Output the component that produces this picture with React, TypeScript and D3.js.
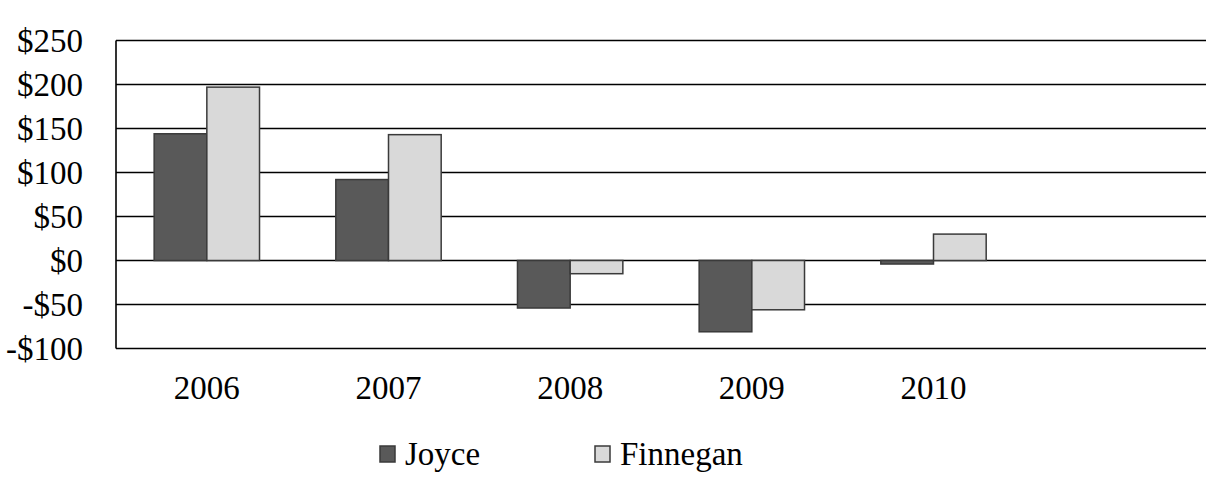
import React from "react";
import * as d3 from "d3";

const categories = ["2006", "2007", "2008", "2009", "2010", ""];
const seriesNames = ["Joyce", "Finnegan"];
const joyce = [144, 92, -54, -81, -4];
const finnegan = [197, 143, -15, -56, 30];
const yTicks = [-100, -50, 0, 50, 100, 150, 200, 250];
const colors = ["#595959", "#d9d9d9"];

const W = 1231;
const H = 488;
const left = 116;
const right = 1206;
const top = 40.5;
const bottom = 348.5;

export default function App() {
  const x0 = d3
    .scaleBand<string>()
    .domain(categories)
    .range([left, right])
    .paddingInner(0.42)
    .paddingOuter(0.21);
  const x1 = d3
    .scaleBand<string>()
    .domain(seriesNames)
    .range([0, x0.bandwidth()]);
  const y = d3.scaleLinear().domain([-100, 250]).range([bottom, top]);
  const fmt = (v: number) => (v < 0 ? `-$${Math.abs(v)}` : `$${v}`);
  const data = [joyce, finnegan];
  const tStyle = { fontFamily: '"Liberation Serif"' };

  return (
    <svg
      width={W}
      height={H}
      style={{ position: "absolute", left: 0, top: 0 }}
    >
      <rect width={W} height={H} fill="#fff" />
      {yTicks.map((t) => (
        <g key={t}>
          <line
            x1={left}
            x2={right}
            y1={y(t)}
            y2={y(t)}
            stroke="#000"
            strokeWidth={1.6}
          />
          <text x={83} y={y(t) + 11.5} textAnchor="end" fontSize={33} style={tStyle}>
            {fmt(t)}
          </text>
        </g>
      ))}
      {data.map((vals, si) =>
        vals.map((v, i) => {
          const xx = (x0(categories[i]) as number) + (x1(seriesNames[si]) as number);
          const y0 = y(0);
          const yv = y(v);
          return (
            <rect
              key={`${si}-${i}`}
              x={xx}
              y={Math.min(y0, yv)}
              width={x1.bandwidth()}
              height={Math.abs(yv - y0)}
              fill={colors[si]}
              stroke="#3a3a3a"
              strokeWidth={1.5}
            />
          );
        })
      )}
      <line x1={left} x2={left} y1={top} y2={bottom} stroke="#000" strokeWidth={1.6} />
      {categories.map((c) =>
        c ? (
          <text
            key={c}
            x={(x0(c) as number) + x0.bandwidth() / 2}
            y={399}
            textAnchor="middle"
            fontSize={33}
            style={tStyle}
          >
            {c}
          </text>
        ) : null
      )}
      {seriesNames.map((s, i) => {
        const lx = [380, 595][i];
        return (
          <g key={s}>
            <rect
              x={lx}
              y={446}
              width={15}
              height={16}
              fill={colors[i]}
              stroke="#3a3a3a"
              strokeWidth={1.5}
            />
            <text x={lx + 25} y={465} fontSize={33} style={tStyle}>
              {s}
            </text>
          </g>
        );
      })}
    </svg>
  );
}
